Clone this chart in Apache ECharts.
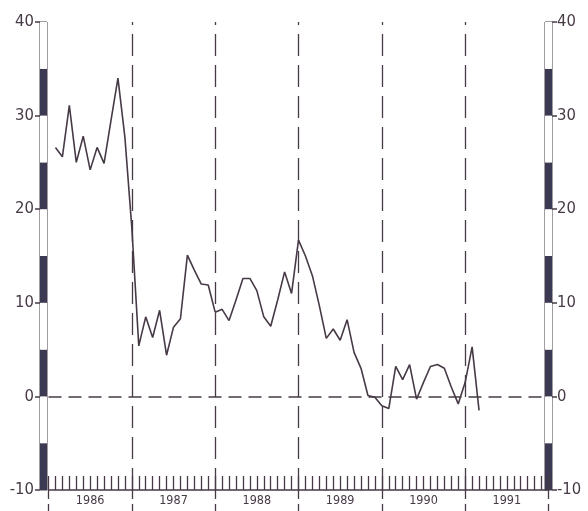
<!DOCTYPE html>
<html><head><meta charset="utf-8">
<script src="https://cdn.jsdelivr.net/npm/echarts@6/dist/echarts.min.js"></script>
<style>html,body{margin:0;padding:0;background:#fff}#c{width:588px;height:511px}</style>
</head><body><div id="c"></div>
<script>
// month index: 0 = Jan 1986
const monthIndex = [1,2,3,4,5,6,7,8,9,10,11,12,13,14,15,16,17,18,19,20,21,22,23,24,25,26,27,28,29,30,31,32,33,34,35,36,37,38,39,40,41,42,43,44,45,46,47,48,49,50,51,52,53,54,55,56,57,58,59,60,61,62];
const values = [26.6,25.6,31.1,25.0,27.8,24.2,26.6,24.9,29.5,34.0,27.7,18.0,5.4,8.5,6.3,9.2,4.4,7.4,8.3,15.1,13.5,12.0,11.9,9.0,9.3,8.1,10.3,12.6,12.6,11.3,8.5,7.5,10.3,13.3,11.0,16.7,15.0,12.9,9.7,6.2,7.2,6.0,8.2,4.7,3.0,0.1,-0.1,-1.0,-1.3,3.2,1.8,3.4,-0.3,1.5,3.2,3.4,3.0,1.0,-0.8,1.5,5.3,-1.5];
const yearLabels = ['1986','1987','1988','1989','1990','1991'];
const yearBoundaries = [12,24,36,48,60];
const yMin = -10, yMax = 40;

const C = '#463a46';
const DARK = '#3c3a52';
const FONT = "'DejaVu Sans', sans-serif";
const STRETCH = 'condensed';

const chart = echarts.init(document.getElementById('c'), null, {renderer:'canvas'});
const hiddenX = (g) => ({gridIndex:g, type:'value', min:0, max:1, show:false});
const barY = (g) => ({gridIndex:g, type:'value', min:yMin, max:yMax, interval:5,
  axisLine:{show:false}, axisTick:{show:false}, axisLabel:{show:false}, splitLine:{show:false},
  splitArea:{show:true, areaStyle:{color:[DARK,'#ffffff']}}});
const labelY = (g, pos, margin) => ({gridIndex:g, type:'value', min:yMin, max:yMax, interval:10, position:pos,
  axisLine:{show:false}, splitLine:{show:false}, splitArea:{show:false},
  axisTick:{show:true, length:5, lineStyle:{color:C, width:1.5}},
  axisLabel:{show:true, margin:margin, color:C, fontSize:16.5, fontWeight:STRETCH, fontFamily:FONT}});

chart.setOption({
  animation:false,
  backgroundColor:'#ffffff',
  grid:[
    {left:48.5, right:39.5, top:22, bottom:21, outerBoundsMode:'none'},
    {left:40, width:7, top:22, bottom:21, show:true, borderColor:C, borderWidth:1, outerBoundsMode:'none'},
    {left:545, width:7, top:22, bottom:21, show:true, borderColor:C, borderWidth:1, outerBoundsMode:'none'},
    {left:48.5, right:39.5, top:490, bottom:0, outerBoundsMode:'none'}
  ],
  xAxis:[
    {gridIndex:0, type:'value', min:0, max:72, interval:1,
      axisLine:{show:true, onZero:false, lineStyle:{color:C, width:1.5}},
      axisTick:{show:true, inside:true, length:14, lineStyle:{color:C, width:1.3}},
      axisLabel:{show:true, margin:4, color:C, fontSize:12.5, fontWeight:STRETCH, fontFamily:FONT, hideOverlap:false,
        formatter:(v)=> (v % 12 === 6) ? yearLabels[(v-6)/12] : ''},
      splitLine:{show:false}},
    hiddenX(1), hiddenX(2),
    {gridIndex:3, type:'value', min:0, max:72, interval:12,
      axisLine:{show:false}, axisTick:{show:false}, axisLabel:{show:false},
      splitLine:{show:true, lineStyle:{color:C, width:1.3, type:[9,5]}}}
  ],
  yAxis:[
    {gridIndex:0, type:'value', min:yMin, max:yMax, interval:10,
      axisLine:{show:false}, axisTick:{show:false}, axisLabel:{show:false}, splitLine:{show:false}},
    barY(1), labelY(1,'left',6),
    barY(2), labelY(2,'right',5),
    {gridIndex:3, type:'value', min:0, max:1, show:false}
  ],
  series:[
    {type:'line', xAxisIndex:0, yAxisIndex:0, symbol:'none',
      data: monthIndex.map((m,i)=>[m, values[i]]),
      lineStyle:{color:C, width:1.6},
      markLine:{silent:true, symbol:'none', label:{show:false},
        data:[{yAxis:0, lineStyle:{color:C, width:1.5, type:[13,7]}}]
          .concat(yearBoundaries.map(x=>({xAxis:x, lineStyle:{color:C, width:1.3, type:[22,9]}})))
      }
    }
  ]
});
</script>
</body></html>
